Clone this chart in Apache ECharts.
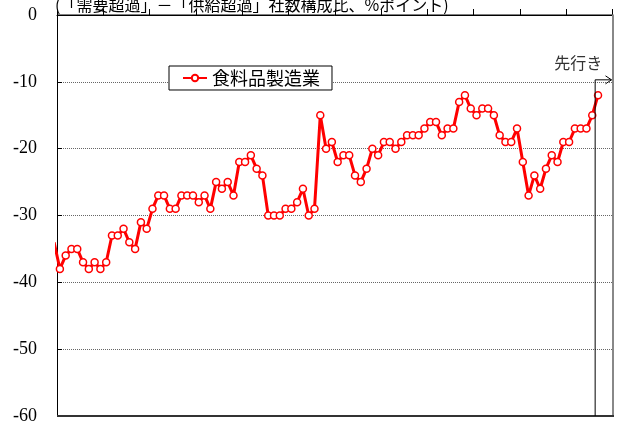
<!DOCTYPE html>
<html>
<head>
<meta charset="utf-8">
<script src="https://cdn.jsdelivr.net/npm/echarts@6/dist/echarts.min.js"></script>
<style>
  html, body { margin: 0; padding: 0; background: #fff; }
  #chart { width: 634px; height: 423px; }
</style>
</head>
<body>
<div id="chart"></div>
<script>
// Quarterly supply-demand DI, food manufacturing (last point = forecast)
const seriesName = '食料品製造業';
const diValues = [
  -34,
  -38, -36, -35, -35, -37, -38, -37, -38, -37, -33, -33, -32, -34, -35, -31, -32, -29, -27, -27,
  -29, -29, -27, -27, -27, -28, -27, -29, -25, -26, -25, -27, -22, -22, -21, -23, -24, -30, -30,
  -30, -29, -29, -28, -26, -30, -29, -15, -20, -19, -22, -21, -21, -24, -25, -23, -20, -21, -19,
  -19, -20, -19, -18, -18, -18, -17, -16, -16, -18, -17, -17, -13, -12, -14, -15, -14, -14, -15,
  -18, -19, -19, -17, -22, -27, -24, -26, -23, -21, -22, -19, -19, -17, -17, -17, -15, -12
];
const unitNote = '(「需要超過」－「供給超過」社数構成比、%ポイント)';
const forecastLabel = '先行き';

// Axis layout
const yMin = -60, yMax = 0, yStep = 10;
const slotCount = 96;      // quarters shown on the horizontal axis
const slotsPerTick = 8;    // tick mark every 8 quarters
const forecastSlot = 93;   // boundary where the forecast period starts
const forecastArrowLevel = -9.7;

const chart = echarts.init(document.getElementById('chart'), null, { renderer: 'canvas' });

// each quarter sits in the middle of its slot
const points = diValues.map((v, i) => [i - 0.5, v]);

chart.setOption({
  animation: false,
  backgroundColor: '#fff',
  grid: { left: 57, right: 21.5, top: 15, bottom: 7, outerBoundsMode: 'none' },
  legend: {
    left: 169, top: 66,
    backgroundColor: '#fff',
    borderColor: '#000', borderWidth: 1,
    padding: [3, 12, 3, 13],
    itemWidth: 24, itemHeight: 8, itemGap: 0,
    textStyle: { fontSize: 18, color: '#000', fontFamily: 'Noto Sans CJK JP' },
    data: [seriesName]
  },
  // period axis along the top edge (zero line), ticks only
  xAxis: {
    type: 'value', min: 0, max: slotCount, interval: slotsPerTick,
    axisLine: { show: true, lineStyle: { color: '#000', width: 1 } },
    axisTick: { show: true, inside: true, length: 6, lineStyle: { color: '#000', width: 1 } },
    axisLabel: { show: false }, splitLine: { show: false }
  },
  yAxis: {
    type: 'value', min: yMin, max: yMax, interval: yStep,
    axisLine: { show: true, lineStyle: { color: '#000', width: 1 } },
    axisTick: { show: true, inside: true, length: 5, lineStyle: { color: '#000', width: 1 } },
    axisLabel: { margin: 20, fontFamily: 'Liberation Serif', fontSize: 18, color: '#000' },
    splitLine: { show: true, lineStyle: { type: 'dotted', color: '#666', width: 1 } }
  },
  series: [
    {
      name: seriesName,
      type: 'line',
      data: points,
      symbol: 'circle', symbolSize: 7, showAllSymbol: true,
      color: '#ff0000',
      lineStyle: { color: '#ff0000', width: 3 },
      itemStyle: { color: '#fff', borderColor: '#ff0000', borderWidth: 1.5 }
    }
  ]
});

// Frame edges and forecast marker, placed through the axes
const toPx = (x, y) => chart.convertToPixel({ xAxisIndex: 0, yAxisIndex: 0 }, [x, y]);
const topLeft = toPx(0, yMax);
const bottomRight = toPx(slotCount, yMin);
const arrowStart = toPx(forecastSlot, forecastArrowLevel);
const tipX = bottomRight[0] - 1;
const arrowY = arrowStart[1];

chart.setOption({
  graphic: [
    {
      type: 'rect', z: 50,
      shape: { x: topLeft[0], y: topLeft[1] - 0.5, width: bottomRight[0] - topLeft[0], height: 1 },
      style: { fill: '#000', stroke: null }
    },
    {
      type: 'rect', z: 50,
      shape: { x: bottomRight[0] - 0.5, y: topLeft[1] - 0.5, width: 2, height: bottomRight[1] - topLeft[1] + 1 },
      style: { fill: '#888', stroke: null }
    },
    {
      type: 'rect', z: 50,
      shape: { x: topLeft[0], y: bottomRight[1] - 1, width: bottomRight[0] - topLeft[0] + 1.5, height: 2 },
      style: { fill: '#333', stroke: null }
    },
    {
      type: 'polyline', z: 50,
      shape: { points: [[arrowStart[0], bottomRight[1]], [arrowStart[0], arrowY], [tipX, arrowY]] },
      style: { stroke: '#000', lineWidth: 1, fill: null }
    },
    {
      type: 'polyline', z: 50,
      shape: { points: [[tipX - 6, arrowY - 4], [tipX, arrowY], [tipX - 6, arrowY + 4]] },
      style: { stroke: '#000', lineWidth: 1, fill: null }
    },
    {
      type: 'text', z: 50, x: 55, y: 5,
      style: { text: unitNote, fontSize: 16, fill: '#000', fontFamily: 'Noto Sans CJK JP', verticalAlign: 'middle' }
    },
    {
      type: 'text', z: 50, x: arrowStart[0] - 17, y: 63,
      style: {
        text: forecastLabel, fontSize: 16, fill: '#333', fontFamily: 'Noto Sans CJK JP',
        align: 'center', verticalAlign: 'middle'
      }
    }
  ]
});
</script>
</body>
</html>
